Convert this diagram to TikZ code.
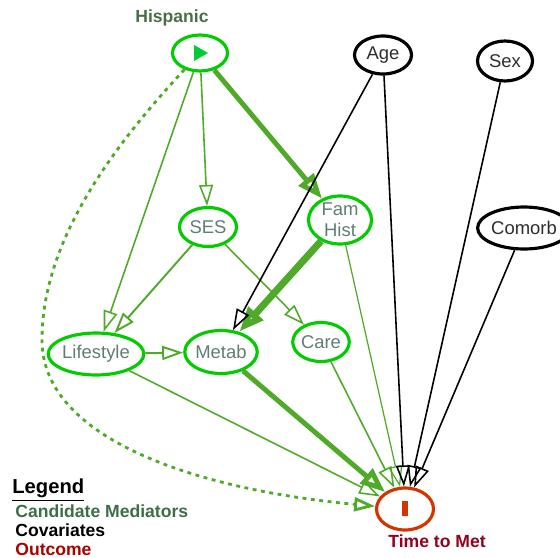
\documentclass[tikz,border=0pt]{standalone}
\usepackage{fontspec}
\setmainfont{Liberation Sans}
\usepackage{tikz}
\usetikzlibrary{arrows.meta,shapes.geometric}
\definecolor{medgreen}{RGB}{0,204,0}
\definecolor{edgegreen}{RGB}{80,170,42}
\definecolor{medtext}{RGB}{95,125,115}
\definecolor{covtext}{RGB}{45,45,45}
\definecolor{hisplabel}{RGB}{72,112,72}
\definecolor{playgreen}{RGB}{0,204,51}
\definecolor{outring}{RGB}{212,52,0}
\definecolor{outlabel}{RGB}{150,0,30}
\definecolor{legred}{RGB}{170,0,0}
\definecolor{leggreen}{RGB}{62,110,72}

\begin{document}
\begin{tikzpicture}[
  x=0.02cm, y=-0.02cm,
  font=\fontsize{10.5}{12}\selectfont,
  med/.style={ellipse, draw=medgreen, line width=1.8pt, text=medtext, inner sep=0pt, align=center},
  cov/.style={ellipse, draw=black, line width=1.8pt, text=covtext, inner sep=0pt},
  arr/.style={-{Triangle[open, length=0.42cm, width=0.28cm]}, line width=0.9pt},
  bigarr/.style={-{Triangle[open, length=0.5cm, width=0.38cm]}},
]
\useasboundingbox (0,0) rectangle (560,557);
% nodes
\node[med, minimum width=1.1cm, minimum height=0.72cm] (hisp) at (200,53) {};
\node[font=\fontsize{10}{12}\selectfont\bfseries, text=hisplabel] (hisplab) at (172,18) {Hispanic};
\node[cov, minimum width=1.14cm, minimum height=0.76cm] (age) at (383,55) {Age};
\node[cov, minimum width=1.1cm, minimum height=0.8cm] (sex) at (505,61) {Sex};
\node[cov, minimum width=1.36cm, minimum height=0.84cm] (comorb) at (524,228) {Comorb};
\node[med, minimum width=1.14cm, minimum height=0.78cm] (ses) at (208,227) {SES};
\node[med, minimum width=1.26cm, minimum height=0.88cm] (famhist) at (340,220) {Fam\\Hist};
\node[med, minimum width=1.44cm, minimum height=0.84cm] (life) at (96,354) {Lifestyle};
\node[med, minimum width=1.14cm, minimum height=0.86cm] (metab) at (221,352) {Metab};
\node[med, minimum width=1.1cm, minimum height=0.78cm] (care) at (321,342) {Care};
\node[ellipse, draw=outring, line width=1.8pt, minimum width=1.14cm, minimum height=0.84cm] (time) at (405,509) {};
\node[font=\fontsize{10}{12}\selectfont\bfseries, text=outlabel] (timelab) at (437,541) {Time to Met};
\fill[playgreen] (194,45) -- (208,53) -- (194,61) -- cycle;
\fill[outring] (402,501) rectangle (408,516);
% edges from Hispanic
\draw[arr, edgegreen] (hisp) -- (ses);
\draw[arr, edgegreen] (hisp) -- (life);
\draw[bigarr, edgegreen, line width=2.8pt] (hisp) -- (famhist);
\draw[arr, edgegreen, line width=1.6pt, dash pattern=on 2.2pt off 2.6pt] (hisp) .. controls (100,160) and (42,250) .. (42,340) .. controls (42,440) and (200,490) .. (time);
% mediators
\draw[arr, edgegreen, line width=1.1pt] (ses) -- (life);
\draw[arr, edgegreen] (ses) -- (care);
\draw[arr, edgegreen, line width=1.1pt] (life) -- (metab);
\draw[bigarr, edgegreen, line width=4pt] (famhist) -- (metab);
\draw[arr, edgegreen, line width=0.7pt] (famhist) -- (time);
\draw[arr, edgegreen] (life) -- (time);
\draw[bigarr, edgegreen, line width=2.8pt] (metab) -- (time);
\draw[arr, edgegreen] (care) -- (time);
% covariates
\draw[arr, black] (age) -- (metab);
\draw[arr, black] (age) -- (time);
\draw[arr, black] (sex) -- (time);
\draw[arr, black] (comorb) -- (time);
% legend
\node[anchor=west, font=\fontsize{11.5}{13}\selectfont\bfseries, inner sep=0pt] (legend) at (12,490) {\underline{Legend}};
\node[anchor=west, font=\fontsize{10}{12}\selectfont\bfseries, text=leggreen, inner sep=0pt] (legmed) at (15,511) {Candidate Mediators};
\node[anchor=west, font=\fontsize{10}{12}\selectfont\bfseries, inner sep=0pt] (legcov) at (15,530) {Covariates};
\node[anchor=west, font=\fontsize{10}{12}\selectfont\bfseries, text=legred, inner sep=0pt] (legout) at (15,549) {Outcome};
\end{tikzpicture}
\end{document}
